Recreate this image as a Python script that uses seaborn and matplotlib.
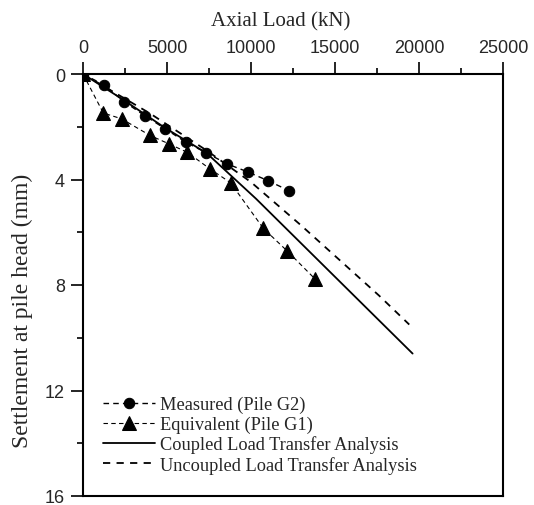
import matplotlib
matplotlib.use("Agg")
import matplotlib.pyplot as plt
import seaborn as sns
import pandas as pd
from matplotlib.ticker import MultipleLocator

# ---- data ----
measured_load = [0, 1230, 2450, 3680, 4900, 6130, 7350, 8580, 9800, 11030, 12250]
measured_settle = [0, 0.41, 1.05, 1.58, 2.08, 2.59, 2.99, 3.41, 3.71, 4.05, 4.42]

equiv_load = [0, 1210, 2300, 3990, 5120, 6210, 7560, 8780, 10730, 12170, 13810]
equiv_settle = [0, 1.48, 1.70, 2.33, 2.65, 2.97, 3.60, 4.12, 5.85, 6.72, 7.77]

coupled_load = [0, 2450, 4900, 7360, 10300, 19620]
coupled_settle = [0, 1.0, 2.05, 3.0, 4.73, 10.6]

uncoupled_load = [0, 4000, 7360, 10000, 13000, 17620, 19420]
uncoupled_settle = [0, 1.5, 2.9, 4.1, 5.75, 8.40, 9.5]

x_ticks = [0, 5000, 10000, 15000, 20000, 25000]
y_ticks = [0, 4, 8, 12, 16]

sns.set_style("white")
serif = ["Liberation Serif", "DejaVu Serif"]
sans = ["Liberation Sans", "DejaVu Sans"]

fig = plt.figure(figsize=(5.34, 5.06), dpi=100)
ax = fig.add_axes([83 / 534, 1 - 497 / 506, 420 / 534, 422 / 506])

def df(x, y):
    return pd.DataFrame({"x": x, "y": y})

sns.lineplot(data=df(measured_load, measured_settle), x="x", y="y", ax=ax,
             color="black", lw=1.0, linestyle=(0, (4, 3)), marker="o",
             markersize=7.5, markeredgecolor="black", markerfacecolor="black",
             estimator=None, sort=False, label="Measured (Pile G2)")
sns.lineplot(data=df(equiv_load, equiv_settle), x="x", y="y", ax=ax,
             color="black", lw=0.8, linestyle=(0, (4, 3)), marker="^",
             markersize=9.5, markeredgecolor="black", markerfacecolor="black",
             estimator=None, sort=False, label="Equivalent (Pile G1)")
sns.lineplot(data=df(coupled_load, coupled_settle), x="x", y="y", ax=ax,
             color="black", lw=1.3, linestyle="-",
             estimator=None, sort=False, label="Coupled Load Transfer Analysis")
sns.lineplot(data=df(uncoupled_load, uncoupled_settle), x="x", y="y", ax=ax,
             color="black", lw=1.3, linestyle=(0, (4, 3.5)),
             estimator=None, sort=False, label="Uncoupled Load Transfer Analysis")

ax.set_xlim(0, 25000)
ax.set_ylim(16, 0)
ax.xaxis.tick_top()
ax.xaxis.set_label_position("top")
ax.set_xticks(x_ticks)
ax.set_yticks(y_ticks)
ax.xaxis.set_minor_locator(MultipleLocator(2500))
ax.yaxis.set_minor_locator(MultipleLocator(2))
ax.tick_params(axis="both", which="major", direction="out", length=8.5, width=1.2,
               color="black", labelsize=13, pad=4.5)
ax.tick_params(axis="both", which="minor", direction="out", length=4.5, width=1.2,
               color="black")
ax.tick_params(axis="x", which="both", top=True, bottom=False)
ax.tick_params(axis="y", which="both", left=True, right=False)
for lab in ax.get_xticklabels() + ax.get_yticklabels():
    lab.set_fontfamily(sans)

for s in ax.spines.values():
    s.set_color("black")
    s.set_linewidth(1.5)

ax.set_xlabel("Axial Load (kN)", fontsize=15, family=serif)
ax.set_ylabel("Settlement at pile head (mm)", fontsize=17, family=serif)
ax.xaxis.set_label_coords(0.471, 1.116)
ax.yaxis.set_label_coords(-0.12, 0.441)

leg = ax.legend(loc="lower left", bbox_to_anchor=(0.03, 0.035), frameon=False,
                prop={"family": serif, "size": 13.2}, handlelength=2.85,
                handletextpad=0.27, labelspacing=0.14, borderaxespad=0)

fig.savefig("out.png", dpi=100)
